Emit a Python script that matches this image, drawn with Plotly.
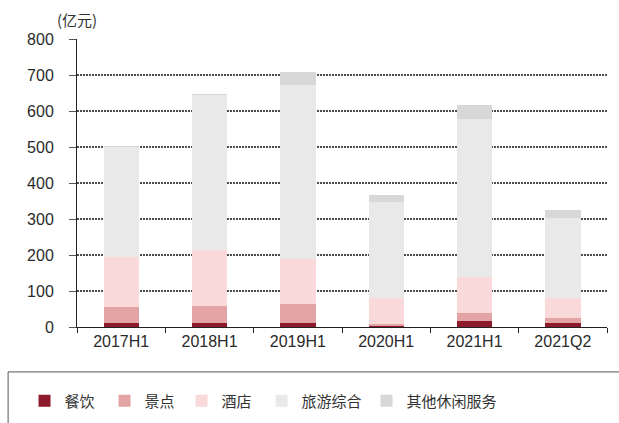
import plotly.graph_objects as go

# 半年度/季度收入构成（亿元）
periods = ["2017H1", "2018H1", "2019H1", "2020H1", "2021H1", "2021Q2"]
catering = [12, 12, 10, 5, 17, 10]          # 餐饮
scenic = [43, 46, 53, 4, 23, 14]            # 景点
hotel = [140, 156, 127, 71, 100, 56]        # 酒店
tourism = [305, 431, 482, 268, 437, 222]    # 旅游综合
other = [2, 2, 37, 19, 40, 23]              # 其他休闲服务

series = [
    ("餐饮", catering, "#8E1B2C", 35),
    ("景点", scenic, "#E3A4A6", 32),
    ("酒店", hotel, "#F9D9D9", 35),
    ("旅游综合", tourism, "#E9E9E9", 60),
    ("其他休闲服务", other, "#D8D8D8", 95),
]

fig = go.Figure()
for name, vals, color, lw in series:
    fig.add_trace(go.Bar(
        x=periods, y=vals, name=name,
        marker=dict(color=color, line=dict(width=0)),
        legendwidth=lw,
    ))

tick_font = dict(family="Liberation Sans, Arial, sans-serif", size=16, color="#2a2a2a")

fig.update_layout(
    width=619, height=423,
    margin=dict(l=77, r=12, t=39, b=96, autoexpand=False),
    paper_bgcolor="white", plot_bgcolor="white",
    barmode="stack", bargap=0.6,
    showlegend=True,
    legend=dict(
        orientation="h", x=-0.099, xanchor="left", y=-0.20, yanchor="top",
        font=dict(family="Noto Sans CJK SC", size=15, color="#333333"),
        itemclick=False, traceorder="normal",
        entrywidthmode="pixels",
    ),
    xaxis=dict(
        type="category", showline=True, linecolor="#222222", linewidth=1,
        ticks="outside", tickson="boundaries", ticklen=5, tickcolor="#222222",
        tickfont=tick_font, showgrid=False, fixedrange=True,
    ),
    yaxis=dict(
        range=[0, 800], dtick=100, showline=True, linecolor="#222222", linewidth=1,
        ticks="outside", ticklen=7, tickcolor="#555555",
        ticklabelstandoff=12,
        showgrid=True, gridcolor="#4a4a4a", griddash="2px,1px", gridwidth=1.5,
        zeroline=False, tickfont=tick_font, fixedrange=True,
    ),
    annotations=[dict(
        text="(亿元)", xref="paper", yref="paper", x=0.0, y=1.025,
        xanchor="center", yanchor="bottom", showarrow=False,
        font=dict(family="Noto Sans CJK SC", size=15, color="#333333"),
    )],
    shapes=[dict(
        type="rect", xref="paper", yref="paper",
        x0=-0.13, x1=1.05, y0=-0.40, y1=-0.156,
        line=dict(color="#555555", width=1), fillcolor="rgba(0,0,0,0)",
        layer="below",
    )],
)

fig.write_html("out.html")
